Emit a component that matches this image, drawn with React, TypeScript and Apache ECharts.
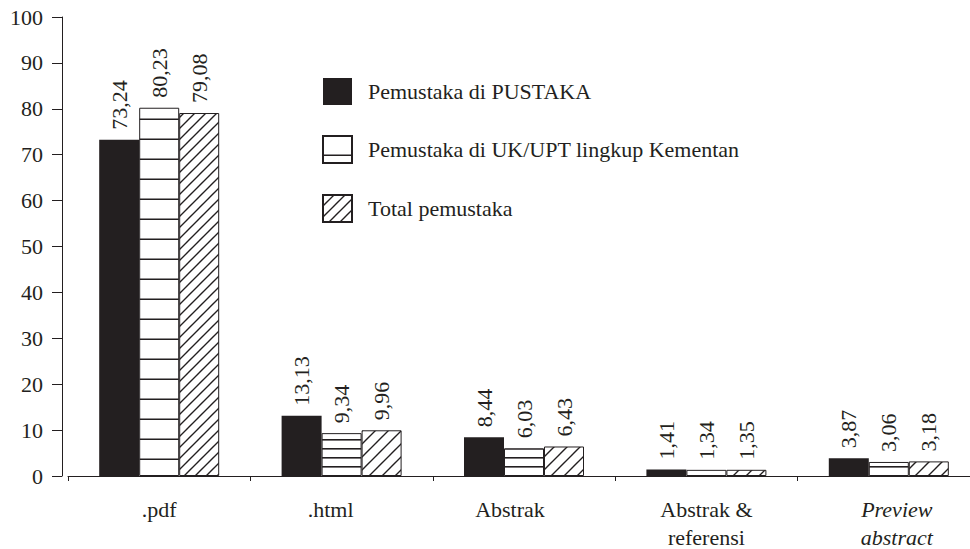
import React, { useEffect, useRef } from "react";
import * as echarts from "echarts";

const categories = [".pdf", ".html", "Abstrak", "Abstrak &\nreferensi", "Preview\nabstract"];
const seriesNames = [
  "Pemustaka di PUSTAKA",
  "Pemustaka di UK/UPT lingkup Kementan",
  "Total pemustaka",
];
const pustaka = [73.24, 13.13, 8.44, 1.41, 3.87];
const ukupt = [80.23, 9.34, 6.03, 1.34, 3.06];
const total = [79.08, 9.96, 6.43, 1.35, 3.18];
const yMin = 0;
const yMax = 100;
const yStep = 10;

const INK = "#231f20";
const FONT = "Liberation Serif";
const FS = 22;

function stripePattern(spacing: number) {
  const c = document.createElement("canvas");
  c.width = 10;
  c.height = spacing;
  const ctx = c.getContext("2d")!;
  ctx.fillStyle = "#ffffff";
  ctx.fillRect(0, 0, c.width, c.height);
  ctx.fillStyle = INK;
  ctx.fillRect(0, spacing - 2, c.width, 1.6);
  return { image: c, repeat: "repeat", imageWidth: c.width, imageHeight: c.height } as any;
}

function hatchPattern(s: number) {
  const c = document.createElement("canvas");
  c.width = s;
  c.height = s;
  const ctx = c.getContext("2d")!;
  ctx.fillStyle = "#ffffff";
  ctx.fillRect(0, 0, s, s);
  ctx.strokeStyle = INK;
  ctx.lineWidth = 1.4;
  ctx.beginPath();
  ctx.moveTo(-1, s + 1);
  ctx.lineTo(s + 1, -1);
  ctx.moveTo(-s / 2, s / 2);
  ctx.lineTo(s / 2, -s / 2);
  ctx.moveTo(s / 2, s * 1.5);
  ctx.lineTo(s * 1.5, s / 2);
  ctx.stroke();
  return { image: c, repeat: "repeat", imageWidth: s, imageHeight: s } as any;
}

const fmt = (p: any) => Number(p.value).toFixed(2).replace(".", ",");

export default function App() {
  const ref = useRef<HTMLDivElement>(null);
  useEffect(() => {
    document.body.style.margin = "0";
    const chart = echarts.init(ref.current!, null, { renderer: "svg" });
    const stripeWide = stripePattern(20.5);
    const stripeNarrow = stripePattern(9);
    const hatchWide = hatchPattern(11);
    const hatchNarrow = hatchPattern(13);

    const label = {
      show: true,
      position: "top",
      rotate: 90,
      align: "left",
      verticalAlign: "middle",
      distance: 10,
      formatter: fmt,
      color: INK,
      fontFamily: FONT,
      fontSize: FS,
    };

    const base = { fontFamily: FONT, fontSize: FS, color: INK, lineHeight: 28 };

    chart.setOption({
      animation: false,
      backgroundColor: "#ffffff",
      textStyle: { fontFamily: FONT, color: INK },
      grid: {
        left: 68,
        top: 17,
        width: 912,
        bottom: 73,
        containLabel: false,
        outerBoundsMode: "none",
      },
      legend: {
        orient: "vertical",
        left: 322,
        top: 78,
        padding: 0,
        itemWidth: 29,
        itemHeight: 27,
        itemGap: 30,
        icon: "rect",
        textStyle: { fontFamily: FONT, fontSize: FS, color: INK, padding: [0, 0, 0, 11] },
        data: seriesNames,
      },
      xAxis: {
        type: "category",
        data: categories,
        axisLine: { lineStyle: { color: INK, width: 1 } },
        axisTick: { show: true, length: 5, lineStyle: { color: INK } },
        axisLabel: {
          interval: 0,
          margin: 19,
          ...base,
          formatter: (v: string) => {
            if (v.startsWith("Preview")) return v.split("\n").map((s) => `{p|${s}}`).join("\n");
            if (v === ".html") return `{h|${v}}`;
            if (v === "Abstrak") return `{a|${v}}`;
            return v;
          },
          rich: {
            p: { ...base, fontStyle: "italic", padding: [0, 0, 0, 16] },
            h: { ...base, padding: [0, 22, 0, 0] },
            a: { ...base, padding: [0, 28, 0, 0] },
          },
        },
      },
      yAxis: {
        type: "value",
        min: yMin,
        max: yMax,
        interval: yStep,
        offset: 6,
        splitLine: { show: false },
        axisLine: { show: true, lineStyle: { color: INK, width: 1 } },
        axisTick: { show: true, length: 10, lineStyle: { color: INK } },
        axisLabel: { margin: 19, fontFamily: FONT, fontSize: FS, color: INK },
      },
      series: [
        {
          name: seriesNames[0],
          type: "bar",
          barWidth: 40,
          barGap: "0%",
          itemStyle: { color: INK },
          label,
          data: pustaka,
        },
        {
          name: seriesNames[1],
          type: "bar",
          barWidth: 40,
          barGap: "0%",
          itemStyle: { color: stripeWide, borderColor: INK, borderWidth: 1 },
          label,
          data: ukupt.map((v, i) => ({
            value: v,
            itemStyle: { color: i === 0 ? stripeWide : stripeNarrow, borderColor: INK, borderWidth: 1 },
          })),
        },
        {
          name: seriesNames[2],
          type: "bar",
          barWidth: 40,
          barGap: "0%",
          itemStyle: { color: hatchWide, borderColor: INK, borderWidth: 1 },
          label,
          data: total.map((v, i) => ({
            value: v,
            itemStyle: { color: i === 0 ? hatchWide : hatchNarrow, borderColor: INK, borderWidth: 1 },
          })),
        },
      ],
    });
    return () => chart.dispose();
  }, []);
  return <div ref={ref} style={{ width: 970, height: 549 }} />;
}
